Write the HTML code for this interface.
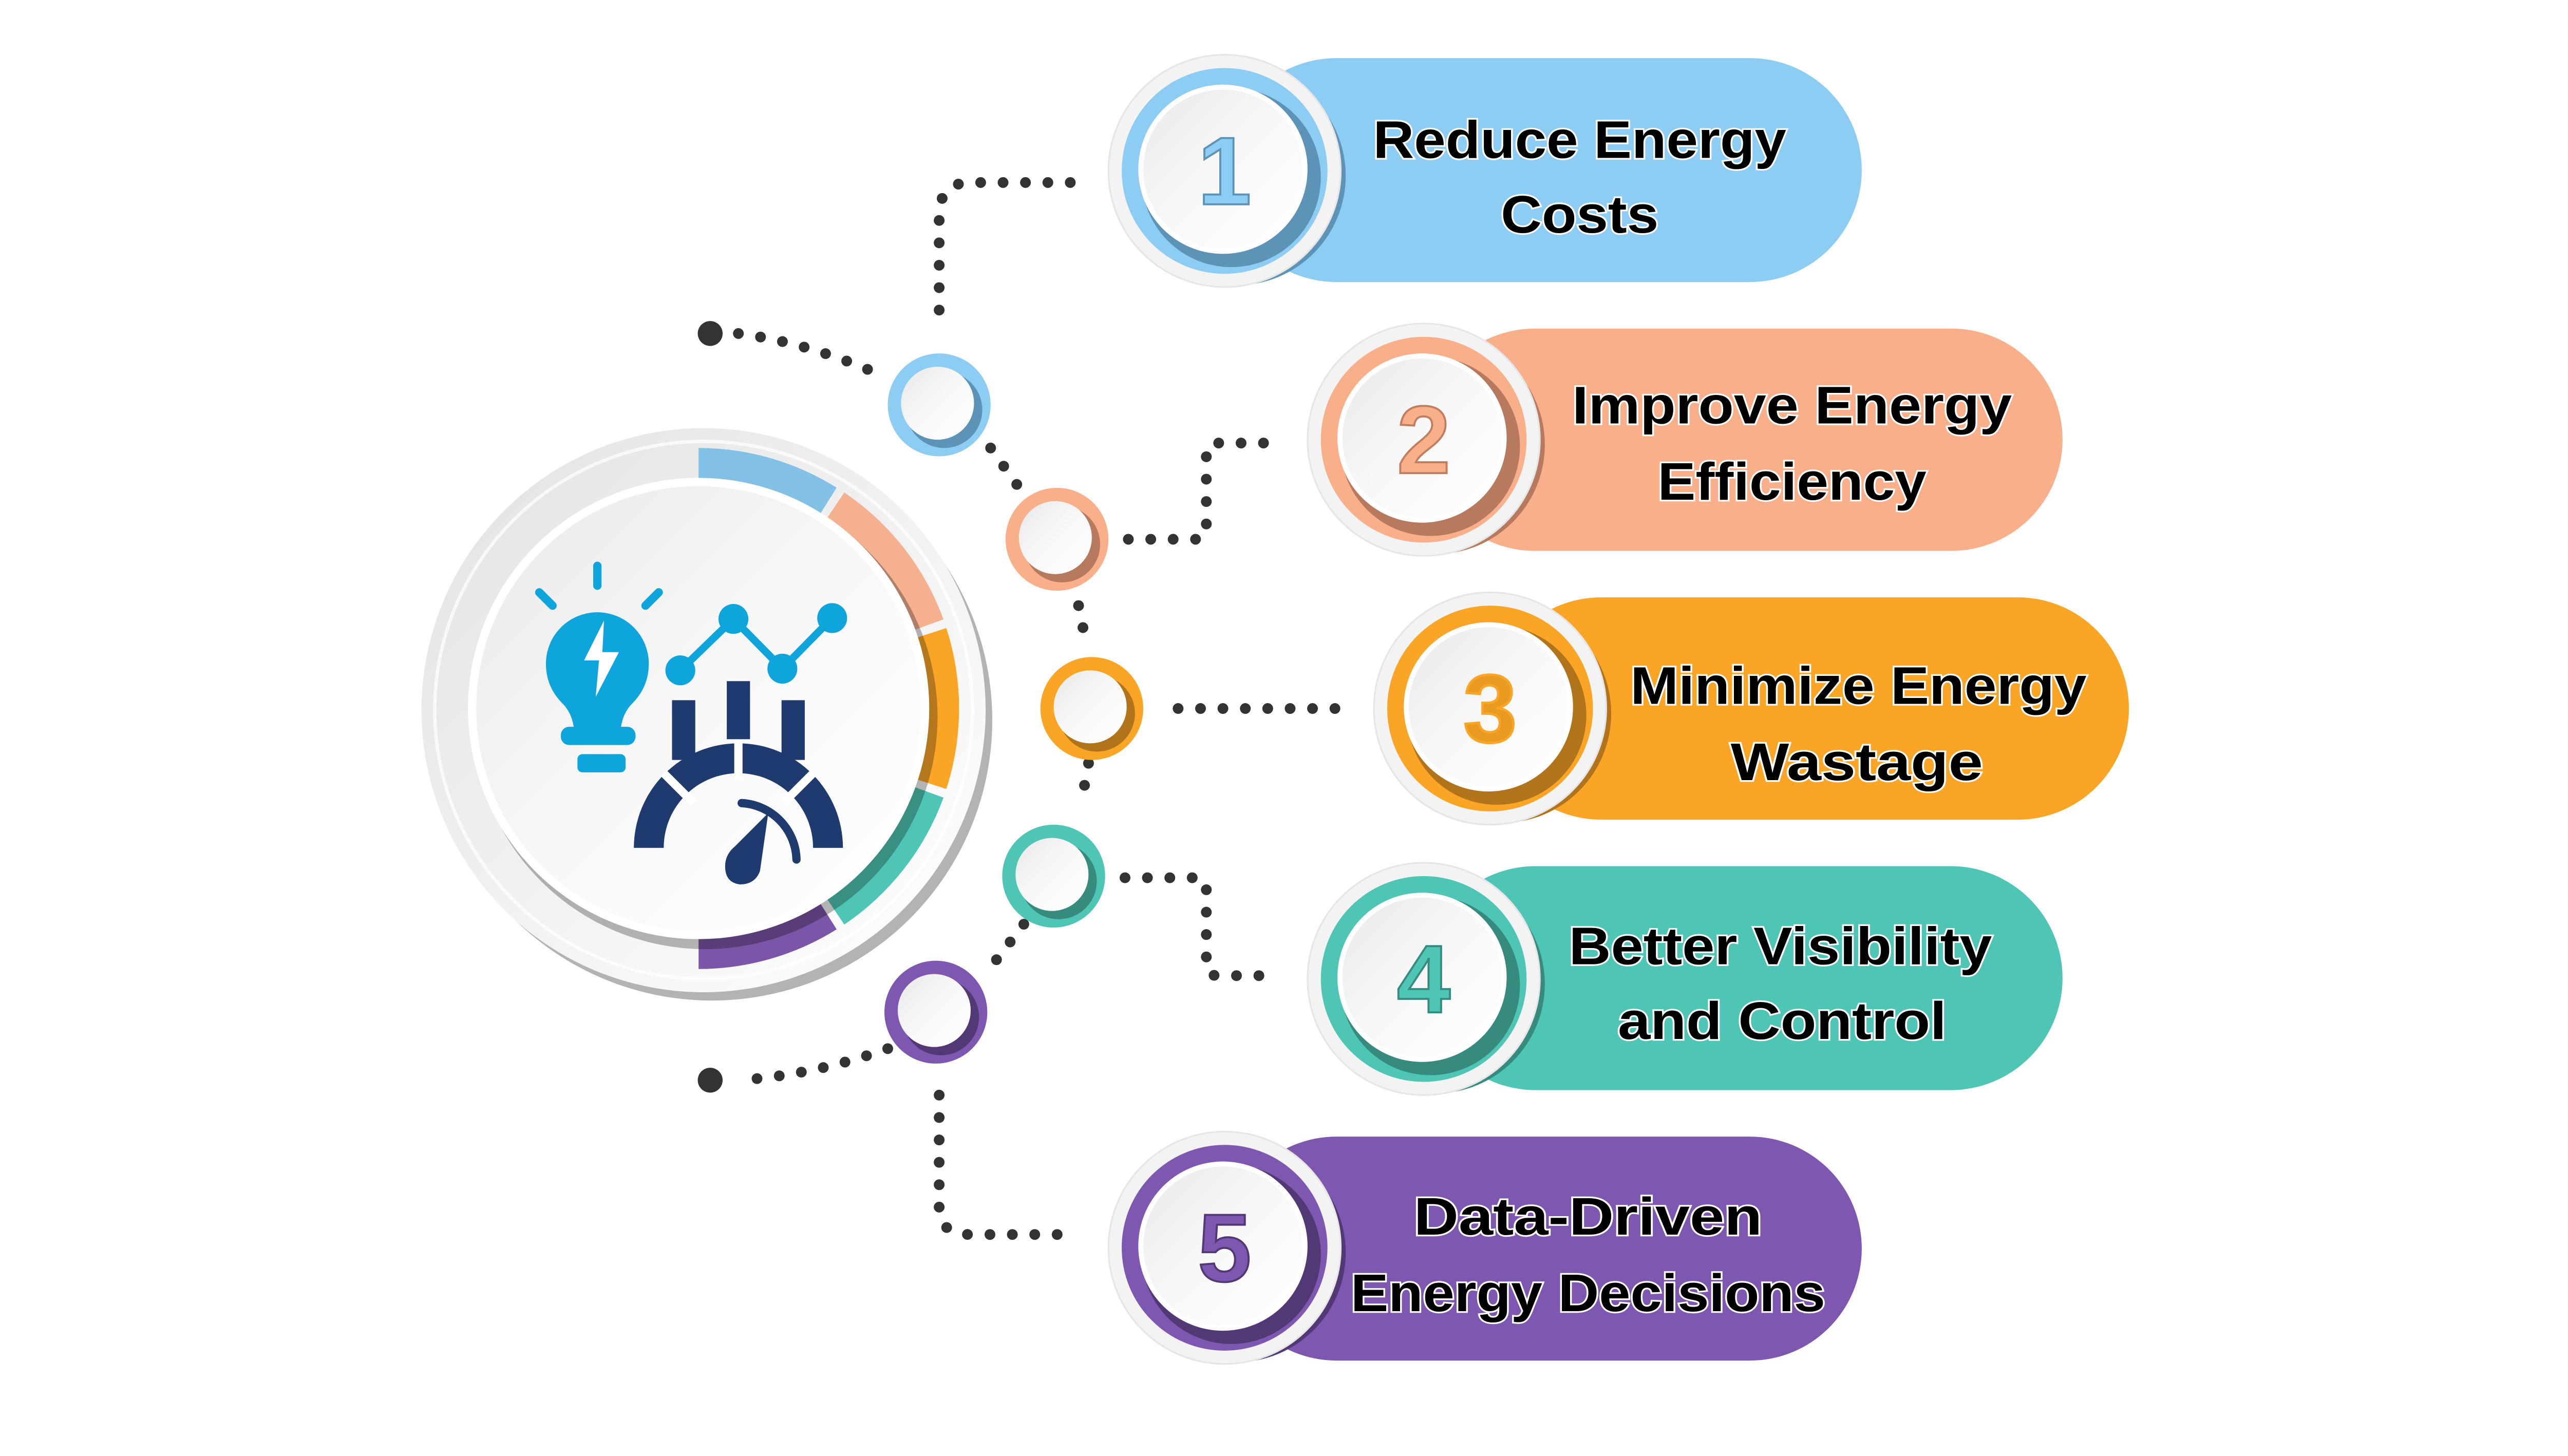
<!DOCTYPE html>
<html><head><meta charset="utf-8">
<style>
html,body{margin:0;padding:0;background:#fff;}
svg{display:block;}
text{font-family:"Liberation Sans",Arial,sans-serif;font-weight:bold;}
</style></head>
<body>
<svg width="5040" height="2835" viewBox="0 0 1560 877.5" xmlns="http://www.w3.org/2000/svg">
<defs>
<linearGradient id="wg" x1="0" y1="0" x2="1" y2="1">
<stop offset="0" stop-color="#e9e9e9"/><stop offset="0.5" stop-color="#f8f8f8"/><stop offset="1" stop-color="#ffffff"/>
</linearGradient>
<linearGradient id="og" x1="0" y1="0" x2="1" y2="1">
<stop offset="0" stop-color="#e2e2e2"/><stop offset="0.6" stop-color="#f4f4f4"/><stop offset="1" stop-color="#ffffff"/>
</linearGradient>
</defs>
<rect width="1560" height="877.5" fill="#fff"/>

<!-- dotted connectors -->
<g fill="none" stroke="#333" stroke-width="6.5" stroke-linecap="round" stroke-dasharray="0 13.5">
<path d="M645 110 L585 110 Q566 110 566 130 L566 200"/>
<path d="M445 201 Q490 207 535 228"/>
<path d="M597 270 L620 302"/>
<path d="M680 325 L722 325 Q727 325 727 318 L727 272 Q727 267 734 267 L767 267"/>
<path d="M650 365 L654 385"/>
<path d="M710 427 L808 427"/>
<path d="M656 460 L652 482"/>
<path d="M678 529 L722 529 Q727 529 727 536 L727 582 Q727 588 734 588 L767 588"/>
<path d="M617 557 L597 583"/>
<path d="M535 632 Q490 648 445 651"/>
<path d="M566 660 L566 728 Q566 744 585 744 L645 744"/>
</g>
<circle cx="428" cy="201" r="7.5" fill="#333"/>
<circle cx="428" cy="651" r="7.5" fill="#333"/>

<!-- main circle -->
<circle cx="429" cy="434" r="169" fill="#b3b3b3"/>
<circle cx="424" cy="428" r="170" fill="url(#og)"/>
<circle cx="424" cy="428" r="162" fill="none" stroke="#ffffff" stroke-width="2" opacity="0.7"/>
<path d="M421 270 A157 157 0 0 1 504.2 293.9 L492.5 312.5 A135 135 0 0 0 421 292 Z" fill="#82C0E6"/>
<path d="M508.8 296.8 A157 157 0 0 1 568.6 373.3 L547.9 380.8 A135 135 0 0 0 496.5 315.1 Z" fill="#F4B08F"/>
<path d="M570.3 378.5 A157 157 0 0 1 570.3 475.5 L549.4 468.7 A135 135 0 0 0 549.4 385.3 Z" fill="#FBA526"/>
<path d="M568.6 480.7 A157 157 0 0 1 508.8 557.2 L496.5 538.9 A135 135 0 0 0 547.9 473.2 Z" fill="#4FC6B5"/>
<path d="M504.2 560.1 A157 157 0 0 1 421 584 L421 562 A135 135 0 0 0 492.5 541.5 Z" fill="#7A55A8"/>
<circle cx="425" cy="432" r="140" fill="#000" opacity="0.28"/>
<circle cx="421" cy="427" r="139" fill="#ffffff"/>
<circle cx="421" cy="427" r="134" fill="url(#wg)"/>

<!-- bulb icon -->
<g fill="#0EA5DC" stroke="none">
<path d="M329 400 A31 31 0 1 1 391 400 Q391 414 381 424 Q375 430 374 440 L346 440 Q345 430 339 424 Q329 414 329 400 Z"/>
<rect x="338" y="438" width="45" height="11" rx="5"/>
<rect x="348" y="454.5" width="29" height="11" rx="3"/>
</g>
<path d="M364 374 L352 398 L361 398 L359 420 L373 393 L363 393 Z" fill="#fff"/>
<g stroke="#0EA5DC" stroke-width="5" stroke-linecap="round" fill="none">
<line x1="360" y1="341" x2="360" y2="353"/>
<line x1="325" y1="357" x2="333" y2="365"/>
<line x1="397" y1="357" x2="389" y2="365"/>
</g>
<!-- chart -->
<polyline points="410,404 442,373 471.5,403 501.5,372.5" fill="none" stroke="#0EA5DC" stroke-width="4.5"/>
<g fill="#0EA5DC">
<circle cx="410" cy="404" r="9"/><circle cx="442" cy="373" r="9"/>
<circle cx="471.5" cy="403" r="9"/><circle cx="501.5" cy="372.5" r="9"/>
</g>
<g fill="#1F3A6E">
<rect x="405" y="422" width="14" height="36"/>
<rect x="438" y="410.5" width="14" height="35"/>
<rect x="471" y="422" width="14" height="36"/>
<path d="M382 511 A63 63 0 0 1 508 511 L490 511 A45 45 0 0 0 400 511 Z"/>
</g>
<g stroke="#fff" stroke-width="5">
<line x1="445" y1="446" x2="445" y2="470"/>
<line x1="400" y1="466" x2="418" y2="484"/>
<line x1="490" y1="466" x2="472" y2="484"/>
</g>
<path d="M463 490 L458 525 Q455 533 446 533 Q437 532 437 522 Q437 515 443 510 Z" fill="#1F3A6E"/>
<path d="M447 484 A35 35 0 0 1 480 518" fill="none" stroke="#1F3A6E" stroke-width="5" stroke-linecap="round"/>

<!-- small circles -->
<g>
<circle cx="566" cy="244" r="31" fill="#8ECDF3"/><circle cx="569" cy="247" r="23" fill="#5E93B8"/><circle cx="565" cy="243" r="22" fill="url(#wg)"/>
<circle cx="637" cy="325" r="31" fill="#F9AF8A"/><circle cx="640" cy="328" r="23" fill="#B87A5E"/><circle cx="636" cy="324" r="22" fill="url(#wg)"/>
<circle cx="658" cy="427" r="31" fill="#FBA526"/><circle cx="661" cy="430" r="23" fill="#B2741A"/><circle cx="657" cy="426" r="22" fill="url(#wg)"/>
<circle cx="635" cy="528" r="31" fill="#4FC6B5"/><circle cx="638" cy="531" r="23" fill="#368A7E"/><circle cx="634" cy="527" r="22" fill="url(#wg)"/>
<circle cx="564" cy="610" r="31" fill="#7E57B0"/><circle cx="567" cy="613" r="23" fill="#523874"/><circle cx="563" cy="609" r="22" fill="url(#wg)"/>
</g>

<!-- pills -->
<g>
<rect x="738" y="35" width="384" height="135" rx="67.5" fill="#8ECDF3"/>
<rect x="858" y="198" width="385" height="134" rx="67" fill="#F9AF8A"/>
<rect x="898" y="360" width="385" height="134" rx="67" fill="#FBA526"/>
<rect x="858" y="522" width="385" height="135" rx="67.5" fill="#4FC6B5"/>
<rect x="738" y="685" width="384" height="135" rx="67.5" fill="#7E57B0"/>
</g>

<!-- number circles -->
<g>
<circle cx="745" cy="106" r="66" fill="#5E93B8"/>
<circle cx="738" cy="103" r="70" fill="#f3f3f3" stroke="#e6e6e6" stroke-width="1"/>
<circle cx="738" cy="103" r="62" fill="#8ECDF3"/>
<circle cx="742" cy="107" r="54" fill="#5E93B8"/>
<circle cx="737" cy="102" r="51" fill="#fff"/><circle cx="737" cy="102" r="48" fill="url(#wg)"/>
<text x="738" y="103" font-size="58" text-anchor="middle" dominant-baseline="central" fill="#8ECDF3" stroke="#5E93B8" stroke-width="1.2">1</text>

<circle cx="865" cy="268" r="66" fill="#B87A5E"/>
<circle cx="858" cy="265" r="70" fill="#f3f3f3" stroke="#e6e6e6" stroke-width="1"/>
<circle cx="858" cy="265" r="62" fill="#F9AF8A"/>
<circle cx="862" cy="269" r="54" fill="#B87A5E"/>
<circle cx="857" cy="264" r="51" fill="#fff"/><circle cx="857" cy="264" r="48" fill="url(#wg)"/>
<text x="858" y="265" font-size="58" text-anchor="middle" dominant-baseline="central" fill="#F9AF8A" stroke="#C07E5E" stroke-width="1.2">2</text>

<circle cx="905" cy="430" r="66" fill="#B2741A"/>
<circle cx="898" cy="427" r="70" fill="#f3f3f3" stroke="#e6e6e6" stroke-width="1"/>
<circle cx="898" cy="427" r="62" fill="#FBA526"/>
<circle cx="902" cy="431" r="54" fill="#B2741A"/>
<circle cx="897" cy="426" r="51" fill="#fff"/><circle cx="897" cy="426" r="48" fill="url(#wg)"/>
<text x="898" y="427" font-size="58" text-anchor="middle" dominant-baseline="central" fill="#E99A20" stroke="#FBA526" stroke-width="1.5">3</text>

<circle cx="865" cy="593" r="66" fill="#368A7E"/>
<circle cx="858" cy="590" r="70" fill="#f3f3f3" stroke="#e6e6e6" stroke-width="1"/>
<circle cx="858" cy="590" r="62" fill="#4FC6B5"/>
<circle cx="862" cy="594" r="54" fill="#368A7E"/>
<circle cx="857" cy="589" r="51" fill="#fff"/><circle cx="857" cy="589" r="48" fill="url(#wg)"/>
<text x="858" y="590" font-size="58" text-anchor="middle" dominant-baseline="central" fill="#4FC6B5" stroke="#368A7E" stroke-width="1.2">4</text>

<circle cx="745" cy="755" r="66" fill="#523874"/>
<circle cx="738" cy="752" r="70" fill="#f3f3f3" stroke="#e6e6e6" stroke-width="1"/>
<circle cx="738" cy="752" r="62" fill="#7E57B0"/>
<circle cx="742" cy="756" r="54" fill="#523874"/>
<circle cx="737" cy="751" r="51" fill="#fff"/><circle cx="737" cy="751" r="48" fill="url(#wg)"/>
<text x="738" y="752" font-size="58" text-anchor="middle" dominant-baseline="central" fill="#7E57B0" stroke="#523874" stroke-width="1.2">5</text>
</g>

<!-- labels -->
<g font-size="32" fill="#000" stroke="#fff" stroke-width="2" paint-order="stroke" text-anchor="middle" dominant-baseline="central">
<text x="952" y="84" textLength="249" lengthAdjust="spacingAndGlyphs">Reduce Energy</text>
<text x="952" y="129" textLength="95" lengthAdjust="spacingAndGlyphs">Costs</text>
<text x="1080" y="244" textLength="265" lengthAdjust="spacingAndGlyphs">Improve Energy</text>
<text x="1080" y="290" textLength="162" lengthAdjust="spacingAndGlyphs">Efficiency</text>
<text x="1120" y="413" textLength="275" lengthAdjust="spacingAndGlyphs">Minimize Energy</text>
<text x="1119" y="459" textLength="152" lengthAdjust="spacingAndGlyphs">Wastage</text>
<text x="1073" y="570" textLength="255" lengthAdjust="spacingAndGlyphs">Better Visibility</text>
<text x="1074" y="615" textLength="198" lengthAdjust="spacingAndGlyphs">and Control</text>
<text x="957" y="733" textLength="210" lengthAdjust="spacingAndGlyphs">Data-Driven</text>
<text x="957" y="779" textLength="286" lengthAdjust="spacingAndGlyphs">Energy Decisions</text>
</g>
</svg>
</body></html>
